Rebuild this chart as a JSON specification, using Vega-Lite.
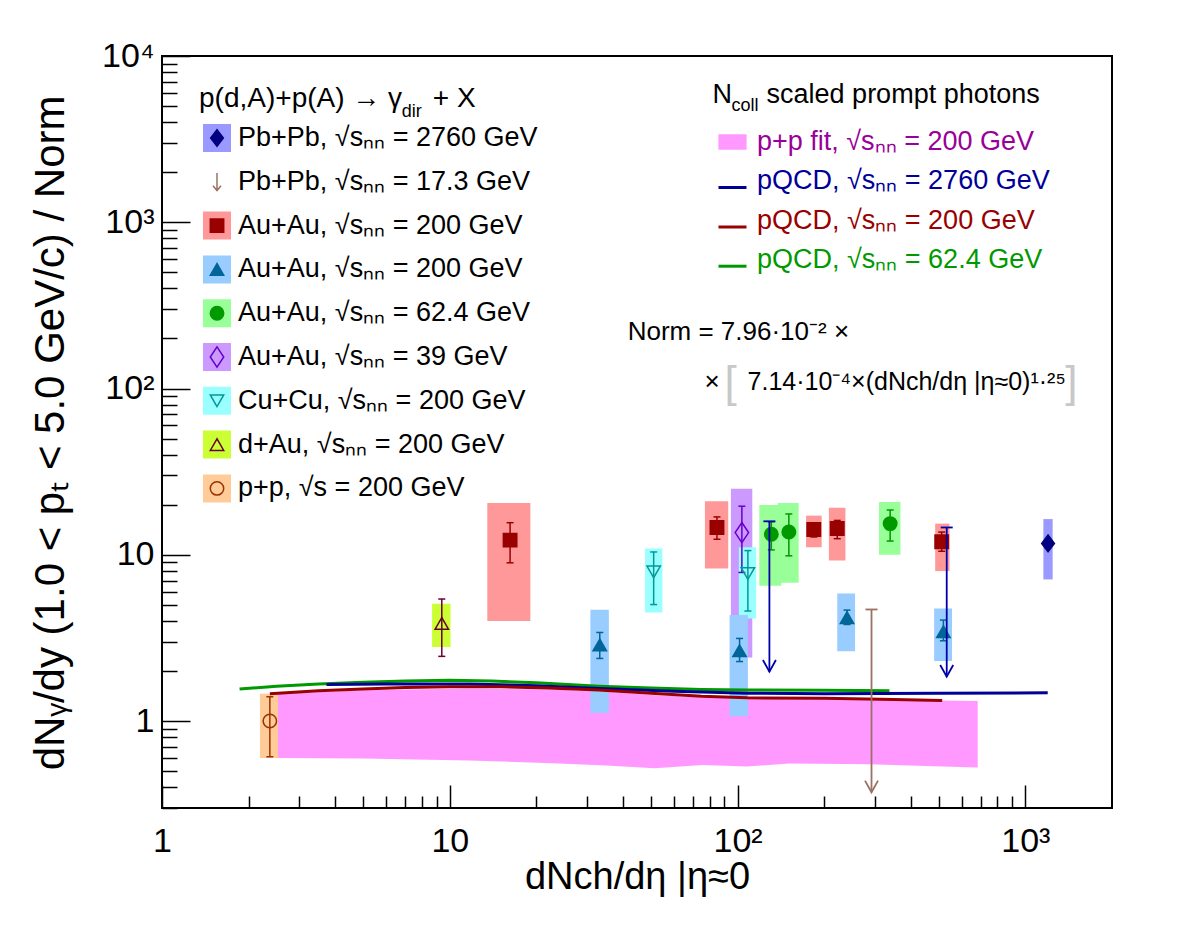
{
  "$schema": "https://vega.github.io/schema/vega-lite/v6.json",
  "width": 950,
  "height": 752,
  "autosize": {"type": "none"},
  "padding": {"left": 162, "top": 56, "right": 70, "bottom": 132},
  "background": "white",
  "config": {
    "font": "Liberation Sans",
    "view": {"stroke": "black", "strokeWidth": 2},
    "axis": {"grid": false, "domain": false, "tickColor": "black", "tickWidth": 1.5, "labelColor": "black", "labelFont": "Liberation Sans", "labelFontSize": 34, "titleFont": "Liberation Sans", "titleFontWeight": "normal", "titleColor": "black", "labelFlush": false, "labelOverlap": false, "labelBound": false},
    "legend": {"labelFont": "Liberation Sans", "labelColor": "black"}
  },
  "datasets": {
    "pts": [
      {"series": "pp200", "x": 2.37, "y": 1.0, "ylo": 0.61, "yhi": 1.40, "bxlo": 2.19, "bxhi": 2.53, "bylo": 0.60, "byhi": 1.46},
      {"series": "dAu200", "x": 9.38, "y": 3.87, "ylo": 2.45, "yhi": 5.42, "bxlo": 8.68, "bxhi": 10.06, "bylo": 2.79, "byhi": 5.08},
      {"series": "AuAu200a", "x": 16.2, "y": 12.25, "ylo": 8.95, "yhi": 15.6, "bxlo": 13.5, "bxhi": 19.05, "bylo": 4.0, "byhi": 20.5},
      {"series": "AuAu200b", "x": 33.2, "y": 2.87, "ylo": 2.38, "yhi": 3.41, "bxlo": 30.8, "bxhi": 35.7, "bylo": 1.12, "byhi": 4.67},
      {"series": "CuCu200", "x": 51.1, "y": 7.9, "ylo": 5.02, "yhi": 10.4, "bxlo": 47.7, "bxhi": 54.8, "bylo": 4.5, "byhi": 10.9},
      {"series": "AuAu200a", "x": 84.8, "y": 14.6, "ylo": 12.4, "yhi": 16.9, "bxlo": 77, "bxhi": 92.8, "bylo": 8.27, "byhi": 21},
      {"series": "AuAu39", "x": 103.5, "y": 13.6, "ylo": 7.83, "yhi": 19.6, "bxlo": 94.8, "bxhi": 112.5, "bylo": 2.41, "byhi": 25},
      {"series": "CuCu200", "x": 108.6, "y": 7.72, "ylo": 4.59, "yhi": 10.6, "bxlo": 101, "bxhi": 116, "bylo": 4.14, "byhi": 11.1},
      {"series": "AuAu200b", "x": 101.6, "y": 2.65, "ylo": 2.28, "yhi": 3.14, "bxlo": 93.8, "bxhi": 108.6, "bylo": 1.07, "byhi": 4.34},
      {"series": "AuAu62", "x": 131, "y": 13.3, "ylo": 10.7, "yhi": 15.8, "bxlo": 119, "bxhi": 141.8, "bylo": 6.51, "byhi": 19.9},
      {"series": "AuAu62", "x": 150.7, "y": 13.7, "ylo": 9.86, "yhi": 17.6, "bxlo": 138, "bxhi": 163, "bylo": 6.79, "byhi": 20.5},
      {"series": "AuAu200a", "x": 184, "y": 14.2, "ylo": 12.8, "yhi": 15.1, "bxlo": 173, "bxhi": 196, "bylo": 11.1, "byhi": 17.2},
      {"series": "AuAu200a", "x": 222, "y": 14.4, "ylo": 12.5, "yhi": 16.1, "bxlo": 207.6, "bxhi": 237, "bylo": 9.25, "byhi": 19.2},
      {"series": "AuAu200b", "x": 240, "y": 4.19, "ylo": 3.81, "yhi": 4.65, "bxlo": 222, "bxhi": 256, "bylo": 2.63, "byhi": 5.86},
      {"series": "AuAu62", "x": 339, "y": 15.4, "ylo": 12.1, "yhi": 18.6, "bxlo": 310, "bxhi": 368, "bylo": 10.0, "byhi": 20.8},
      {"series": "AuAu200a", "x": 512, "y": 11.97, "ylo": 10.5, "yhi": 13.7, "bxlo": 486, "bxhi": 545, "bylo": 7.98, "byhi": 15.4},
      {"series": "AuAu200b", "x": 519, "y": 3.45, "ylo": 3.04, "yhi": 4.05, "bxlo": 482, "bxhi": 556, "bylo": 2.30, "byhi": 4.76},
      {"series": "PbPb2760", "x": 1199, "y": 11.7, "ylo": 11.3, "yhi": 12.1, "bxlo": 1155, "bxhi": 1244, "bylo": 7.11, "byhi": 16.4}
    ],
    "ul": [
      {"series": "ulblue", "x": 129, "ytop": 15.9, "ytip": 1.98},
      {"series": "ulblue", "x": 533, "ytop": 14.6, "ytip": 1.85},
      {"series": "PbPb17", "x": 292, "ytop": 4.69, "ytip": 0.373}
    ],
    "band": [
      {"x": 2.53, "lo": 0.600, "hi": 1.46},
      {"x": 5, "lo": 0.595, "hi": 1.53},
      {"x": 11.7, "lo": 0.580, "hi": 1.57},
      {"x": 22.8, "lo": 0.558, "hi": 1.55},
      {"x": 35, "lo": 0.540, "hi": 1.50},
      {"x": 51.5, "lo": 0.520, "hi": 1.43},
      {"x": 75.5, "lo": 0.545, "hi": 1.39},
      {"x": 108, "lo": 0.533, "hi": 1.37},
      {"x": 151, "lo": 0.555, "hi": 1.36},
      {"x": 288, "lo": 0.550, "hi": 1.35},
      {"x": 514, "lo": 0.533, "hi": 1.33},
      {"x": 683, "lo": 0.526, "hi": 1.32}
    ],
    "curves": [
      {"model": "q62", "x": 1.86, "y": 1.56}, {"model": "q62", "x": 2.5, "y": 1.62}, {"model": "q62", "x": 3.5, "y": 1.67}, {"model": "q62", "x": 5, "y": 1.71}, {"model": "q62", "x": 7, "y": 1.74}, {"model": "q62", "x": 10, "y": 1.76}, {"model": "q62", "x": 14, "y": 1.74}, {"model": "q62", "x": 20, "y": 1.70}, {"model": "q62", "x": 33, "y": 1.62}, {"model": "q62", "x": 50, "y": 1.58}, {"model": "q62", "x": 75, "y": 1.55}, {"model": "q62", "x": 108, "y": 1.54}, {"model": "q62", "x": 200, "y": 1.53}, {"model": "q62", "x": 337, "y": 1.52},
      {"model": "q2760", "x": 3.73, "y": 1.66}, {"model": "q2760", "x": 6, "y": 1.67}, {"model": "q2760", "x": 11.7, "y": 1.67}, {"model": "q2760", "x": 20, "y": 1.63}, {"model": "q2760", "x": 33, "y": 1.57}, {"model": "q2760", "x": 60, "y": 1.51}, {"model": "q2760", "x": 108, "y": 1.47}, {"model": "q2760", "x": 200, "y": 1.46}, {"model": "q2760", "x": 500, "y": 1.47}, {"model": "q2760", "x": 1196, "y": 1.48},
      {"model": "q200", "x": 2.37, "y": 1.46}, {"model": "q200", "x": 3.5, "y": 1.52}, {"model": "q200", "x": 5, "y": 1.56}, {"model": "q200", "x": 7, "y": 1.59}, {"model": "q200", "x": 10, "y": 1.61}, {"model": "q200", "x": 15, "y": 1.61}, {"model": "q200", "x": 22, "y": 1.58}, {"model": "q200", "x": 33, "y": 1.54}, {"model": "q200", "x": 50, "y": 1.47}, {"model": "q200", "x": 75, "y": 1.41}, {"model": "q200", "x": 108, "y": 1.38}, {"model": "q200", "x": 200, "y": 1.37}, {"model": "q200", "x": 350, "y": 1.35}, {"model": "q200", "x": 514, "y": 1.33}
    ],
    "one": [{"k": 0}]
  },
  "resolve": {"scale": {"color": "independent", "shape": "independent"}, "axis": {"y": "independent"}},
  "layer": [
    {
      "data": {"name": "band"},
      "mark": {"type": "area", "color": "#ff99ff", "opacity": 1},
      "encoding": {
        "x": {
          "field": "x", "type": "quantitative",
          "scale": {"type": "log", "domain": [1, 2000], "nice": false},
          "axis": {
            "title": "dNch/dη |η≈0",
            "values": [1,2,3,4,5,6,7,8,9,10,20,30,40,50,60,70,80,90,100,200,300,400,500,600,700,800,900,1000],
            "labelExpr": "datum.value == 1 ? '1' : datum.value == 10 ? '10' : datum.value == 100 ? '10²' : datum.value == 1000 ? '10³' : ''",
            "tickSize": {"condition": {"test": "datum.value == 1 || datum.value == 10 || datum.value == 100 || datum.value == 1000", "value": -23}, "value": -12},
            "labelPadding": 39,
            "labelBaseline": "top",
            "labelAlign": "center",
            "titleFontSize": 38,
            "titleX": 475,
            "titleY": 80,
            "titleAlign": "center",
            "titleBaseline": "alphabetic"
          }
        },
        "y": {
          "field": "lo", "type": "quantitative",
          "scale": {"type": "log", "domain": [0.3, 10000], "nice": false},
          "axis": {
            "orient": "left",
            "title": null,
            "values": [0.3,0.4,0.5,0.6,0.7,0.8,0.9,2,3,4,5,6,7,8,9,20,30,40,50,60,70,80,90,200,300,400,500,600,700,800,900,2000,3000,4000,5000,6000,7000,8000,9000],
            "labels": false,
            "tickSize": -15
          }
        },
        "y2": {"field": "hi"}
      }
    },
    {
      "data": {"name": "pts"},
      "mark": {"type": "rect", "opacity": 1},
      "encoding": {
        "x": {"field": "bxlo", "type": "quantitative", "scale": {"type": "log", "domain": [1, 2000], "nice": false}},
        "x2": {"field": "bxhi"},
        "y": {
          "field": "bylo", "type": "quantitative",
          "scale": {"type": "log", "domain": [0.3, 10000], "nice": false},
          "axis": {
            "orient": "left",
            "title": "dNᵧ/dy (1.0 < pₜ < 5.0 GeV/c) / Norm",
            "values": [1,10,100,1000,10000],
            "labelExpr": "datum.value == 1 ? '1' : datum.value == 10 ? '10' : datum.value == 100 ? '10²' : datum.value == 1000 ? '10³' : '10⁴'",
            "tickSize": -28,
            "labelPadding": 36,
            "labelBaseline": "middle",
            "titleFontSize": 42,
            "titleAngle": 270,
            "titleX": -99,
            "titleY": 39,
            "titleAlign": "right",
            "titleBaseline": "alphabetic"
          }
        },
        "y2": {"field": "byhi"},
        "color": {
          "field": "series", "type": "nominal",
          "scale": {"domain": ["PbPb2760","PbPb17","AuAu200a","AuAu200b","AuAu62","AuAu39","CuCu200","dAu200","pp200"], "range": ["#9999ff","transparent","#ff9999","#99ccff","#99ff99","#cc99ff","#99ffff","#ccff33","#ffcc99"]},
          "legend": {"orient": "none", "legendX": 41, "legendY": 67, "direction": "vertical", "title": null, "symbolType": "square", "symbolSize": 784, "symbolStrokeWidth": 0, "symbolOpacity": 1, "clipHeight": 30, "rowPadding": 13.8, "labelExpr": "''", "labelFontSize": 27, "padding": 0, "zindex": 0}
        }
      }
    },
    {
      "data": {"name": "curves"},
      "mark": {"type": "line", "strokeWidth": 3},
      "encoding": {
        "x": {"field": "x", "type": "quantitative", "scale": {"type": "log", "domain": [1, 2000], "nice": false}},
        "y": {"field": "y", "type": "quantitative", "scale": {"type": "log", "domain": [0.3, 10000], "nice": false}, "axis": null},
        "color": {
          "field": "model", "type": "nominal",
          "scale": {"domain": ["pp","q2760","q200","q62"], "range": ["#ff99ff","#000099","#990000","#009900"]},
          "legend": {
            "orient": "none", "legendX": 555, "legendY": 73, "direction": "vertical", "title": null,
            "symbolSize": 784, "clipHeight": 26, "rowPadding": 12.3, "labelFontSize": 27, "labelOffset": 9, "padding": 0, "labelLimit": 1000,
            "symbolStrokeWidth": 3,
            "symbolType": {"expr": "datum.value === 'pp' ? 'M-0.9,-0.45H0.9V0.45H-0.9Z' : 'M-1,0.45H1'"},
            "symbolFillColor": {"expr": "datum.value === 'pp' ? '#ff99ff' : 'transparent'"},
            "labelColor": {"expr": "datum.value === 'pp' ? '#990099' : datum.value === 'q2760' ? '#000099' : datum.value === 'q200' ? '#990000' : '#009900'"},
            "labelExpr": "datum.value === 'pp' ? 'p+p fit, √sₙₙ = 200 GeV' : datum.value === 'q2760' ? 'pQCD, √sₙₙ = 2760 GeV' : datum.value === 'q200' ? 'pQCD, √sₙₙ = 200 GeV' : 'pQCD, √sₙₙ = 62.4 GeV'"
          }
        }
      }
    },
    {
      "layer": [
        {
          "data": {"name": "pts"},
          "mark": {"type": "rule", "strokeWidth": 1.5},
          "encoding": {
            "y": {"field": "ylo", "type": "quantitative", "scale": {"type": "log", "domain": [0.3, 10000], "nice": false}, "axis": null},
            "y2": {"field": "yhi"}
          }
        },
        {
          "data": {"name": "pts"},
          "mark": {"type": "point", "shape": "M-1,0H1", "size": 49, "strokeWidth": 1.5, "filled": false, "opacity": 1},
          "encoding": {
            "y": {"field": "yhi", "type": "quantitative", "scale": {"type": "log", "domain": [0.3, 10000], "nice": false}, "axis": null}
          }
        },
        {
          "data": {"name": "pts"},
          "mark": {"type": "point", "shape": "M-1,0H1", "size": 49, "strokeWidth": 1.5, "filled": false, "opacity": 1},
          "encoding": {
            "y": {"field": "ylo", "type": "quantitative", "scale": {"type": "log", "domain": [0.3, 10000], "nice": false}, "axis": null}
          }
        },
        {
          "data": {"name": "pts"},
          "mark": {"type": "point", "size": 180, "strokeWidth": 1.5, "opacity": 1},
          "encoding": {
            "y": {"field": "y", "type": "quantitative", "scale": {"type": "log", "domain": [0.3, 10000], "nice": false}, "axis": null},
            "fill": {
              "field": "series", "type": "nominal",
              "scale": {"domain": ["PbPb2760","PbPb17","AuAu200a","AuAu200b","AuAu62","AuAu39","CuCu200","dAu200","pp200"], "range": ["#000080","transparent","#990000","#006699","#009900","transparent","transparent","transparent","transparent"]},
              "legend": null
            },
            "shape": {
              "field": "series", "type": "nominal",
              "scale": {"domain": ["PbPb2760","PbPb17","AuAu200a","AuAu200b","AuAu62","AuAu39","CuCu200","dAu200","pp200"], "range": ["M0,-1.25L0.95,0L0,1.25L-0.95,0Z","M0,-1.3V1.3M-0.6,0.6L0,1.3L0.6,0.6","square","triangle-up","circle","M0,-1.5L1,0L0,1.5L-1,0Z","triangle-down","triangle-up","circle"]},
              "legend": {
                "orient": "none", "legendX": 41.5, "legendY": 67, "direction": "vertical", "title": null,
                "symbolSize": 180, "symbolStrokeWidth": 1.5, "clipHeight": 30, "rowPadding": 13.8, "labelFontSize": 27, "labelOffset": 7.5, "labelLimit": 1000, "padding": 0, "zindex": 1,
                "symbolFillColor": {"expr": "datum.value === 'PbPb2760' ? '#000080' : datum.value === 'AuAu200a' ? '#990000' : datum.value === 'AuAu200b' ? '#006699' : datum.value === 'AuAu62' ? '#009900' : 'transparent'"},
                "symbolStrokeColor": {"expr": "datum.value === 'PbPb2760' ? '#000080' : datum.value === 'PbPb17' ? '#9b7262' : datum.value === 'AuAu200a' ? '#990000' : datum.value === 'AuAu200b' ? '#006699' : datum.value === 'AuAu62' ? '#009900' : datum.value === 'AuAu39' ? '#6600cc' : datum.value === 'CuCu200' ? '#009999' : datum.value === 'dAu200' ? '#660033' : '#993300'"},
                "labelExpr": "datum.value === 'PbPb2760' ? 'Pb+Pb, √sₙₙ = 2760 GeV' : datum.value === 'PbPb17' ? 'Pb+Pb, √sₙₙ = 17.3 GeV' : (datum.value === 'AuAu200a' || datum.value === 'AuAu200b') ? 'Au+Au, √sₙₙ = 200 GeV' : datum.value === 'AuAu62' ? 'Au+Au, √sₙₙ = 62.4 GeV' : datum.value === 'AuAu39' ? 'Au+Au, √sₙₙ = 39 GeV' : datum.value === 'CuCu200' ? 'Cu+Cu, √sₙₙ = 200 GeV' : datum.value === 'dAu200' ? 'd+Au, √sₙₙ = 200 GeV' : 'p+p, √s = 200 GeV'"
              }
            }
          }
        },
        {
          "data": {"name": "ul"},
          "mark": {"type": "rule", "strokeWidth": 1.8},
          "encoding": {
            "y": {"field": "ytip", "type": "quantitative", "scale": {"type": "log", "domain": [0.3, 10000], "nice": false}, "axis": null},
            "y2": {"field": "ytop"}
          }
        },
        {
          "data": {"name": "ul"},
          "mark": {"type": "point", "shape": "M-1,0H1", "size": 144, "strokeWidth": 1.8, "filled": false, "opacity": 1},
          "encoding": {
            "y": {"field": "ytop", "type": "quantitative", "scale": {"type": "log", "domain": [0.3, 10000], "nice": false}, "axis": null}
          }
        },
        {
          "data": {"name": "ul"},
          "mark": {"type": "point", "shape": "M-0.5,-0.9L0,0L0.5,-0.9", "size": 676, "strokeWidth": 1.8, "filled": false, "opacity": 1},
          "encoding": {
            "y": {"field": "ytip", "type": "quantitative", "scale": {"type": "log", "domain": [0.3, 10000], "nice": false}, "axis": null}
          }
        }
      ],
      "encoding": {
        "x": {"field": "x", "type": "quantitative", "scale": {"type": "log", "domain": [1, 2000], "nice": false}},
        "stroke": {
          "field": "series", "type": "nominal",
          "scale": {"domain": ["PbPb2760","PbPb17","AuAu200a","AuAu200b","AuAu62","AuAu39","CuCu200","dAu200","pp200","ulblue"], "range": ["#000080","#9b7262","#990000","#006699","#009900","#6600cc","#009999","#660033","#993300","#0000aa"]},
          "legend": null
        }
      }
    },
    {
      "data": {"name": "one"},
      "layer": [
        {"mark": {"type": "text", "align": "left", "baseline": "middle", "fontSize": 28, "fill": "black"}, "encoding": {"text": {"value": "p(d,A)+p(A) → γ"}, "x": {"datum": 1.345, "type": "quantitative", "scale": {"type": "log", "domain": [1, 2000], "nice": false}}, "y": {"datum": 5480, "type": "quantitative", "scale": {"type": "log", "domain": [0.3, 10000], "nice": false}, "axis": null}}},
        {"mark": {"type": "text", "align": "left", "baseline": "middle", "fontSize": 18, "fill": "black"}, "encoding": {"text": {"value": "dir"}, "x": {"datum": 6.81, "type": "quantitative", "scale": {"type": "log", "domain": [1, 2000], "nice": false}}, "y": {"datum": 4620, "type": "quantitative", "scale": {"type": "log", "domain": [0.3, 10000], "nice": false}, "axis": null}}},
        {"mark": {"type": "text", "align": "left", "baseline": "middle", "fontSize": 28, "fill": "black"}, "encoding": {"text": {"value": "+ X"}, "x": {"datum": 8.73, "type": "quantitative", "scale": {"type": "log", "domain": [1, 2000], "nice": false}}, "y": {"datum": 5480, "type": "quantitative", "scale": {"type": "log", "domain": [0.3, 10000], "nice": false}, "axis": null}}},
        {"mark": {"type": "text", "align": "left", "baseline": "middle", "fontSize": 27, "fill": "black"}, "encoding": {"text": {"value": "N"}, "x": {"datum": 81.9, "type": "quantitative", "scale": {"type": "log", "domain": [1, 2000], "nice": false}}, "y": {"datum": 5794, "type": "quantitative", "scale": {"type": "log", "domain": [0.3, 10000], "nice": false}, "axis": null}}},
        {"mark": {"type": "text", "align": "left", "baseline": "middle", "fontSize": 18, "fill": "black"}, "encoding": {"text": {"value": "coll"}, "x": {"datum": 95.3, "type": "quantitative", "scale": {"type": "log", "domain": [1, 2000], "nice": false}}, "y": {"datum": 4975, "type": "quantitative", "scale": {"type": "log", "domain": [0.3, 10000], "nice": false}, "axis": null}}},
        {"mark": {"type": "text", "align": "left", "baseline": "middle", "fontSize": 27, "fill": "black"}, "encoding": {"text": {"value": "scaled prompt photons"}, "x": {"datum": 126.1, "type": "quantitative", "scale": {"type": "log", "domain": [1, 2000], "nice": false}}, "y": {"datum": 5794, "type": "quantitative", "scale": {"type": "log", "domain": [0.3, 10000], "nice": false}, "axis": null}}},
        {"mark": {"type": "text", "align": "left", "baseline": "middle", "fontSize": 26, "fill": "black"}, "encoding": {"text": {"value": "Norm = 7.96·10⁻² ×"}, "x": {"datum": 41.5, "type": "quantitative", "scale": {"type": "log", "domain": [1, 2000], "nice": false}}, "y": {"datum": 218.4, "type": "quantitative", "scale": {"type": "log", "domain": [0.3, 10000], "nice": false}, "axis": null}}},
        {"mark": {"type": "text", "align": "left", "baseline": "middle", "fontSize": 26, "fill": "black"}, "encoding": {"text": {"value": "×"}, "x": {"datum": 76.8, "type": "quantitative", "scale": {"type": "log", "domain": [1, 2000], "nice": false}}, "y": {"datum": 109.4, "type": "quantitative", "scale": {"type": "log", "domain": [0.3, 10000], "nice": false}, "axis": null}}},
        {"mark": {"type": "text", "align": "center", "baseline": "middle", "fontSize": 44, "fill": "#c8c8c8"}, "encoding": {"text": {"value": "["}, "x": {"datum": 94.6, "type": "quantitative", "scale": {"type": "log", "domain": [1, 2000], "nice": false}}, "y": {"datum": 106.4, "type": "quantitative", "scale": {"type": "log", "domain": [0.3, 10000], "nice": false}, "axis": null}}},
        {"mark": {"type": "text", "align": "left", "baseline": "middle", "fontSize": 25, "fill": "black"}, "encoding": {"text": {"value": "7.14·10⁻⁴×(dNch/dη |η≈0)¹·²⁵"}, "x": {"datum": 108.3, "type": "quantitative", "scale": {"type": "log", "domain": [1, 2000], "nice": false}}, "y": {"datum": 109.4, "type": "quantitative", "scale": {"type": "log", "domain": [0.3, 10000], "nice": false}, "axis": null}}},
        {"mark": {"type": "text", "align": "center", "baseline": "middle", "fontSize": 44, "fill": "#c8c8c8"}, "encoding": {"text": {"value": "]"}, "x": {"datum": 1444, "type": "quantitative", "scale": {"type": "log", "domain": [1, 2000], "nice": false}}, "y": {"datum": 106.4, "type": "quantitative", "scale": {"type": "log", "domain": [0.3, 10000], "nice": false}, "axis": null}}}
      ]
    }
  ]
}
